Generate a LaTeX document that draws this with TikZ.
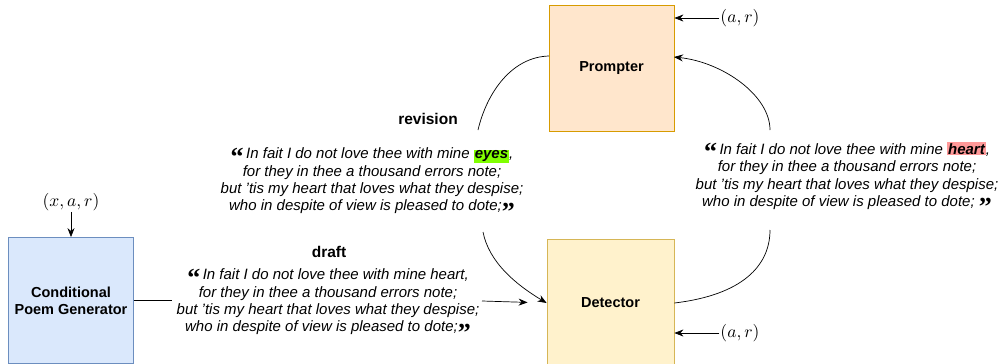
\documentclass[tikz,border=0pt]{standalone}
\usepackage{fontspec}
\setmainfont{Liberation Sans}
\newfontfamily\quotefont{Liberation Serif}
\usepackage{xcolor}
\usetikzlibrary{arrows.meta}

\definecolor{genfill}{HTML}{DAE8FC}  \definecolor{gendraw}{HTML}{6C8EBF}
\definecolor{promfill}{HTML}{FFE6CC} \definecolor{promdraw}{HTML}{D79B00}
\definecolor{detfill}{HTML}{FFF2CC}  \definecolor{detdraw}{HTML}{D6B656}
\definecolor{goodword}{HTML}{80FF00} \definecolor{badword}{HTML}{FF9999}

\newcommand{\openq}{\smash{\raisebox{-6.5pt}{\fontsize{26}{0}\quotefont\upshape\bfseries “}}\,}
\newcommand{\closeq}{\smash{\raisebox{-9.5pt}{\fontsize{26}{0}\quotefont\upshape\bfseries ”}}}
\newcommand{\markword}[2]{{\setlength{\fboxsep}{1pt}\colorbox{#1}{\bfseries #2}}}
\newcommand{\bigmath}[1]{\scalebox{1.75}{$#1$}}
\newcommand{\tis}{{\char"0027}tis}

\begin{document}
\begin{tikzpicture}[x=1pt,y=-1pt,
  module/.style={draw,line width=0.8pt,minimum width=125pt,minimum height=126pt,
    align=center,font=\fontsize{14.5}{17}\selectfont\bfseries},
  poem/.style={align=center,inner sep=0pt,font=\fontsize{15}{17.4}\selectfont\itshape},
  tag/.style={font=\fontsize{15.5}{17}\selectfont\bfseries},
  param/.style={inner sep=1pt},
  arr/.style={-{Stealth[length=9pt,width=7pt]},line width=0.7pt},
  ]
  \useasboundingbox (0,0) rectangle (1002,364);

% the three modules
  \node[module,fill=genfill,draw=gendraw] (gen) at (71,300.5) {Conditional\\Poem Generator};
  \node[module,fill=promfill,draw=promdraw] (prom) at (611.5,68) {Prompter};
  \node[module,fill=detfill,draw=detdraw,minimum width=127pt,minimum height=128pt] (det) at (610.5,303) {Detector};

% inputs
  \node[param] (xar) at (71,202) {\bigmath{(x,a,r)}};
  \draw[arr] (xar) -- (gen);
  \node[param] (arprom) at (740,18) {\bigmath{(a,r)}};
  \draw[arr] (arprom) -- (arprom -| prom.east);
  \node[param] (ardet) at (740,333) {\bigmath{(a,r)}};
  \draw[arr] (ardet) -- (ardet -| det.east);

% draft
  \node[tag] (drafttag) at (329,252) {draft};
  \node[poem] (draft) at (328,302) {\openq In fait I do not love thee with mine heart,\\
    for they in thee a thousand errors note;\\
    but \tis{} my heart that loves what they despise;\\
    who in despite of view is pleased to dote;\closeq};
  \draw[line width=0.7pt] (gen.east) -- (172,300.5);
  \draw[arr,shorten >=19pt] (482,301) -- (det.west);

% revision
  \node[tag] (revtag) at (428,119) {revision};
  \node[poem] (rev) at (372,181) {\openq In fait I do not love thee with mine \markword{goodword}{eyes},\\
    for they in thee a thousand errors note;\\
    but \tis{} my heart that loves what they despise;\\
    who in despite of view is pleased to dote;\closeq};
  \coordinate (revtop) at (478,130);
  \coordinate (revbot) at (483,232);
  \coordinate (promw) at (549,56);
  \draw[line width=0.7pt] (promw) .. controls (512,57) and (487,92) .. (revtop);
  \draw[arr] (revbot) .. controls (489,262) and (515,284) .. (det.west);

% detected word
  \node[poem] (found) at (847,176) {\openq In fait I do not love thee with mine \markword{badword}{heart},\\
    for they in thee a thousand errors note;\\
    but \tis{} my heart that loves what they despise;\\
    who in despite of view is pleased to dote; \closeq};
  \coordinate (foundtop) at (770,130);
  \coordinate (foundbot) at (770,230);
  \coordinate (prome) at (674,57);
  \draw[line width=0.7pt] (det.east) .. controls (742,295) and (770,266) .. (foundbot);
  \draw[arr] (foundtop) .. controls (770,95) and (722,62) .. (prome);
\end{tikzpicture}
\end{document}
